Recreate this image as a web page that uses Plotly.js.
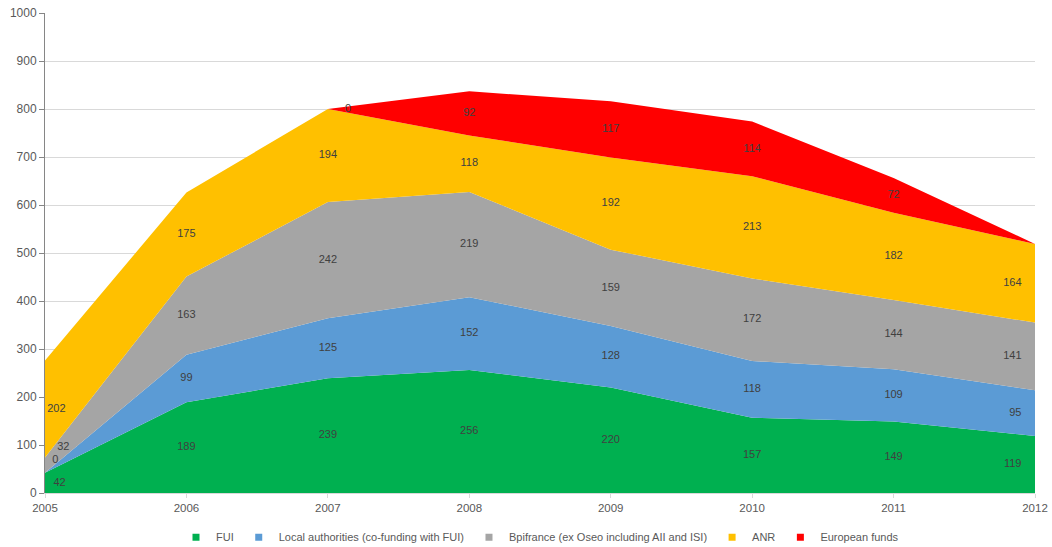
<!DOCTYPE html>
<html>
<head>
<meta charset="utf-8">
<script src="https://cdn.plot.ly/plotly-3.0.1.min.js"></script>
<style>html,body{margin:0;padding:0;background:#fff;}#chart{width:1052px;height:547px;}</style>
</head>
<body>
<div id="chart"></div>
<script>
const years = [2005, 2006, 2007, 2008, 2009, 2010, 2011, 2012];
const fui = [42, 189, 239, 256, 220, 157, 149, 119];
const localAuth = [0, 99, 125, 152, 128, 118, 109, 95];
const bpifrance = [32, 163, 242, 219, 159, 172, 144, 141];
const anr = [202, 175, 194, 118, 192, 213, 182, 164];
const european = [null, null, 0, 92, 117, 114, 72, null];

const seriesNames = ['FUI', 'Local authorities (co-funding with FUI)', 'Bpifrance (ex Oseo including AII and ISI)', 'ANR', 'European funds'];
const seriesData = [fui, localAuth, bpifrance, anr, european];
const colors = ['#00b050', '#5b9bd5', '#a5a5a5', '#ffc000', '#ff0000'];

const font = 'Liberation Sans, Arial, sans-serif';
const traces = [];
seriesData.forEach((d, i) => {
  traces.push({
    x: years, y: d.map(v => v === null ? 0 : v), name: seriesNames[i],
    type: 'scatter', mode: 'none', stackgroup: 'one', fill: 'tonexty',
    fillcolor: colors[i], line: {width: 0}, hoverinfo: 'skip', showlegend: false
  });
});

// labels at middle of each band (offset at the chart edges like the source)
const firstPos = ['middle right', 'top right', 'top right', 'middle right', 'middle right'];
const firstPad = [12, 10, 18, 2, 2];
const base = years.map(() => 0);
seriesData.forEach((d, i) => {
  const xs = [], ys = [], ts = [], pos = [], pad = [];
  d.forEach((v, j) => {
    const val = v === null ? 0 : v;
    if (v !== null) {
      xs.push(years[j]); ys.push(base[j] + val / 2); ts.push(String(v));
      let p = 'middle center', s = 0;
      if (j === 0) { p = firstPos[i]; s = firstPad[i]; }
      else if (j === years.length - 1) { p = 'middle left'; s = 20; }
      else if (i === 4 && val === 0) { p = 'middle right'; s = 26; }
      pos.push(p); pad.push(s);
    }
    base[j] += val;
  });
  traces.push({
    x: xs, y: ys, text: ts, type: 'scatter', mode: 'markers+text', textposition: pos,
    marker: {size: pad, color: 'rgba(0,0,0,0)', line: {width: 0}},
    textfont: {family: font, size: 11, color: '#404040'},
    showlegend: false, hoverinfo: 'skip', cliponaxis: false
  });
});

// legend entries
seriesNames.forEach((n, i) => {
  traces.push({
    x: [null], y: [null], name: n, type: 'scatter', mode: 'markers',
    marker: {symbol: 'square', size: 7, color: colors[i]}, showlegend: true, hoverinfo: 'skip'
  });
});

const layout = {
  width: 1052, height: 547,
  margin: {l: 45, r: 17, t: 13, b: 54},
  paper_bgcolor: '#ffffff', plot_bgcolor: '#ffffff',
  font: {family: font, size: 11, color: '#595959'},
  showlegend: true,
  legend: {orientation: 'h', x: 0.5, xanchor: 'center', xref: 'paper',
           y: 0.018, yref: 'container', yanchor: 'middle',
           traceorder: 'normal', font: {family: font, size: 11, color: '#595959'},
           itemwidth: 30, tracegroupgap: 0},
  xaxis: {range: [2005, 2012], tickmode: 'array', tickvals: years, ticktext: years.map(String),
          showgrid: false, zeroline: false, showline: true, linecolor: '#d9d9d9', linewidth: 1,
          ticks: 'outside', ticklen: 4, tickcolor: '#d9d9d9', fixedrange: true,
          tickfont: {family: font, size: 11.5, color: '#595959'}},
  yaxis: {range: [0, 1000], dtick: 100, tick0: 0, showgrid: true, gridcolor: '#d9d9d9',
          zeroline: false, showline: true, linecolor: '#868686', linewidth: 1,
          ticks: 'outside', ticklen: 5, tickcolor: '#868686', fixedrange: true,
          tickfont: {family: font, size: 12, color: '#595959'}}
};

Plotly.newPlot('chart', traces, layout, {displayModeBar: false, staticPlot: true});
</script>
</body>
</html>
